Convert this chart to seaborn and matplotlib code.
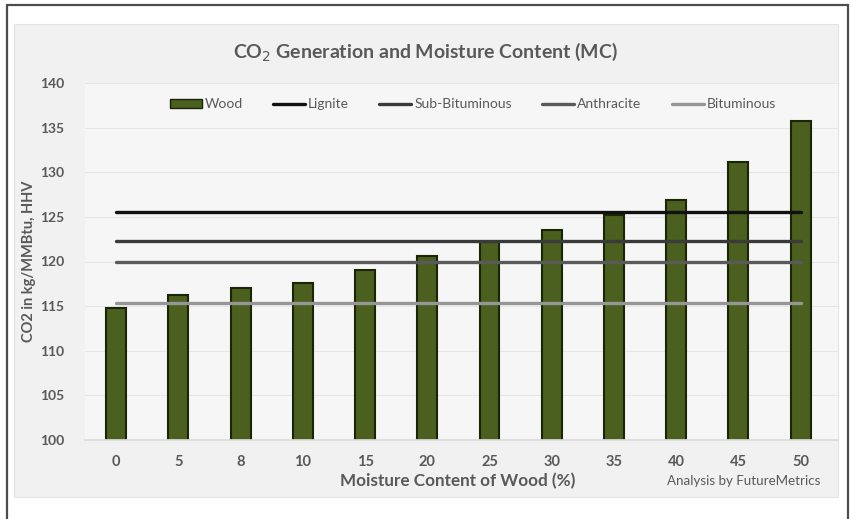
import matplotlib
matplotlib.use("Agg")
import matplotlib.pyplot as plt
import matplotlib.patches as mpatches
from matplotlib.lines import Line2D
import numpy as np
import pandas as pd
import seaborn as sns

# data
moisture = ["0", "5", "8", "10", "15", "20", "25", "30", "35", "40", "45", "50"]
wood = [114.8, 116.3, 117.0, 117.6, 119.1, 120.6, 122.2, 123.5, 125.2, 126.9, 131.1, 135.7]
coal_names = ["Lignite", "Sub-Bituminous", "Anthracite", "Bituminous"]
coal_values = [125.5, 122.3, 119.9, 115.3]
coal_colors = ["#111111", "#3a3a3a", "#5a5a5a", "#969696"]

sns.set_theme(style="white")
plt.rcParams["font.family"] = ["Lato", "DejaVu Sans"]

fig = plt.figure(figsize=(8.53, 5.19), dpi=100)
fig.patch.set_facecolor("white")

# outer frame and chart area background (figure coords)
W, H = 853, 519
fig.patches.append(mpatches.Rectangle((7 / W, -0.01), 841 / W, 1 - 5 / H + 0.01,
                                      transform=fig.transFigure, fill=False,
                                      edgecolor="#4d4d4d", linewidth=1.6, zorder=-2))
fig.patches.append(mpatches.Rectangle((14 / W, 1 - 497 / H), 824 / W, 473 / H,
                                      transform=fig.transFigure, facecolor="#f1f1f1",
                                      edgecolor="#e4e4e4", linewidth=0.8, zorder=-2))

ax = fig.add_axes([85 / W, 1 - 440 / H, 753 / W, 357 / H])
ax.set_zorder(1)
ax.set_facecolor("#f6f6f6")

df = pd.DataFrame({"mc": moisture, "co2": wood})
sns.barplot(data=df, x="mc", y="co2", order=moisture, color="#4b5f1f",
            saturation=1, width=0.32, edgecolor="#1a2406", linewidth=1.5, ax=ax, zorder=2)

xpos = np.arange(len(moisture))
for name, val, col in zip(coal_names, coal_values, coal_colors):
    sns.lineplot(x=xpos, y=[val] * len(moisture), color=col, linewidth=2.4, ax=ax, zorder=3)

ax.set_ylim(100, 140)
ax.set_xlim(-0.5, len(moisture) - 0.4)
ax.set_yticks(np.arange(100, 141, 5))
ax.yaxis.grid(True, color="#e6e6e6", linewidth=0.8)
ax.set_axisbelow(True)
for s in ax.spines.values():
    s.set_visible(False)
ax.spines["bottom"].set_visible(True)
ax.spines["bottom"].set_color("#dcdcdc")

ax.tick_params(axis="y", length=0, pad=15, labelsize=10, labelcolor="#595959")
ax.tick_params(axis="x", length=0, pad=11, labelsize=10.5, labelcolor="#595959")
for t in ax.get_xticklabels() + ax.get_yticklabels():
    t.set_fontweight("bold")

ax.set_ylabel("CO2 in kg/MMBtu, HHV", fontsize=10.5, fontweight="bold", color="#595959", labelpad=3)
ax.set_xlabel("")
fig.text(458 / W, 1 - 481 / H, "Moisture Content of Wood (%)", ha="center", va="center",
         fontsize=12.3, fontweight="bold", color="#595959")
fig.text(744 / W, 1 - 481 / H, "Analysis by FutureMetrics", ha="center", va="center",
         fontsize=9.6, color="#595959")
fig.text(425 / W, 1 - 52 / H, "CO$_2$ Generation and Moisture Content (MC)", ha="center",
         va="center", fontsize=14, fontweight="bold", color="#595959")

handles = [mpatches.Patch(facecolor="#4b5f1f", edgecolor="#1a2406")]
handles += [Line2D([0], [0], color=c, linewidth=2.4) for c in coal_colors]
ax.legend(handles, ["Wood"] + coal_names, ncol=5, loc="center", bbox_to_anchor=(0.515, 0.94),
          frameon=False, fontsize=10, labelcolor="#595959", handlelength=2.3,
          handletextpad=0.2, columnspacing=2.2)

fig.savefig("out.png", dpi=100)
